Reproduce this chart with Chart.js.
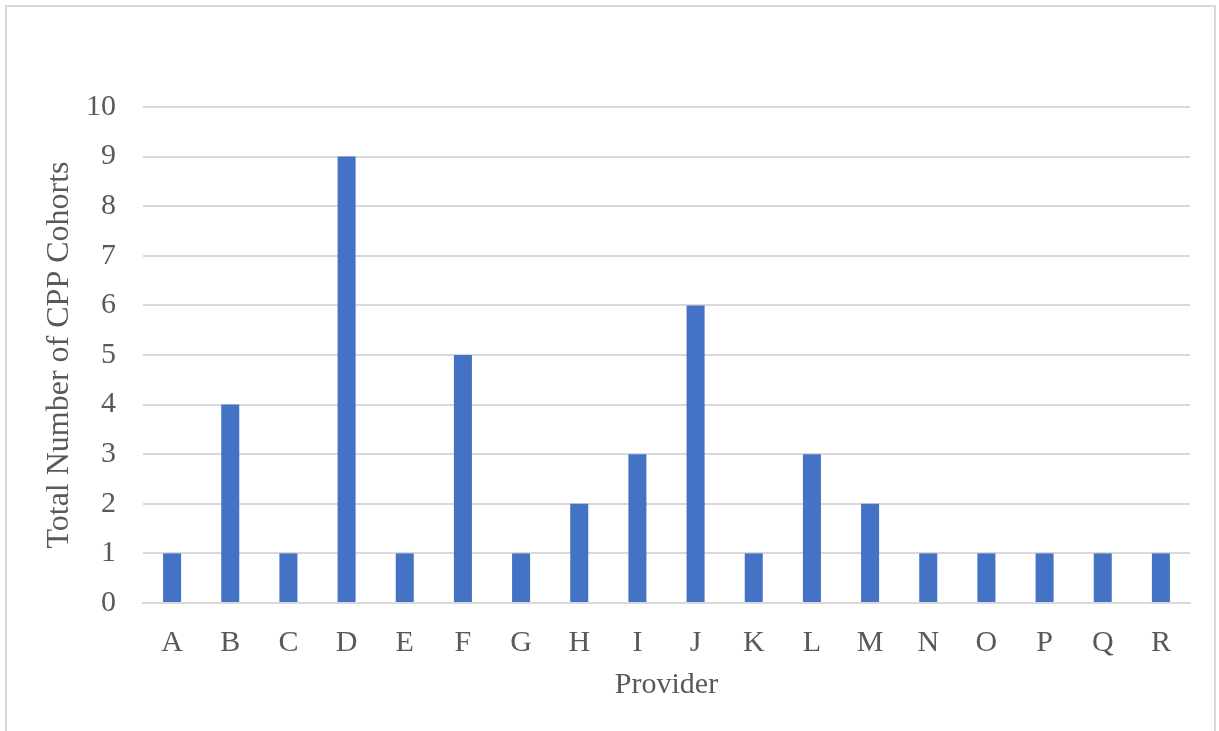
<!DOCTYPE html>
<html>
<head>
<meta charset="utf-8">
<script src="https://cdn.jsdelivr.net/npm/chart.js@4/dist/chart.umd.min.js"></script>
<style>
  html, body { margin: 0; padding: 0; background: #ffffff; }
  #wrap { position: relative; width: 1219px; height: 731px; overflow: hidden; }
  #frame { position: absolute; left: 5px; top: 5px; width: 1211px; height: 740px;
           border: 2px solid #d9d9d9; box-sizing: border-box; pointer-events: none; }
  canvas { position: absolute; left: 0; top: 0; }
</style>
</head>
<body>
<div id="wrap">
  <canvas id="chart" width="1219" height="731"></canvas>
  <div id="frame"></div>
</div>
<script>
// Cohorts per provider
const providers = ['A','B','C','D','E','F','G','H','I','J','K','L','M','N','O','P','Q','R'];
const cohorts   = [1, 4, 1, 9, 1, 5, 1, 2, 3, 6, 1, 3, 2, 1, 1, 1, 1, 1];
const yTicks    = [0, 1, 2, 3, 4, 5, 6, 7, 8, 9, 10];

const serif = '"Liberation Serif", "Times New Roman", serif';
const textColor = '#595959';
const gridColor = '#d9d9d9';
const fontSize = 30;

new Chart(document.getElementById('chart'), {
  type: 'bar',
  data: {
    labels: providers,
    datasets: [{
      data: cohorts,
      backgroundColor: '#4472c4',
      borderWidth: 0,
      categoryPercentage: 1.0,
      barPercentage: 0.31
    }]
  },
  options: {
    responsive: false,
    animation: false,
    layout: { padding: { left: 0, right: 29, top: 107, bottom: 0 } },
    plugins: { legend: { display: false }, tooltip: { enabled: false } },
    scales: {
      x: {
        grid: { display: false, drawTicks: false },
        border: { display: true, color: gridColor, width: 2 },
        ticks: { color: textColor, font: { family: serif, size: fontSize }, padding: 22, maxRotation: 0 },
        title: { display: true, text: 'Provider', color: textColor,
                 font: { family: serif, size: fontSize }, padding: { top: 0, bottom: 28 } },
        afterFit: s => { s.height = 128; }
      },
      y: {
        min: 0, max: 10,
        afterBuildTicks: s => { s.ticks = yTicks.map(v => ({ value: v })); },
        grid: { color: gridColor, lineWidth: 2, drawTicks: false },
        border: { display: false },
        ticks: { color: textColor, font: { family: serif, size: fontSize }, padding: 27 },
        title: { display: true, text: 'Total Number of CPP Cohorts', color: textColor,
                 font: { family: serif, size: 32 }, padding: { top: 40, bottom: 0 } },
        afterFit: s => { s.width = 143; }
      }
    }
  }
});
</script>
</body>
</html>
